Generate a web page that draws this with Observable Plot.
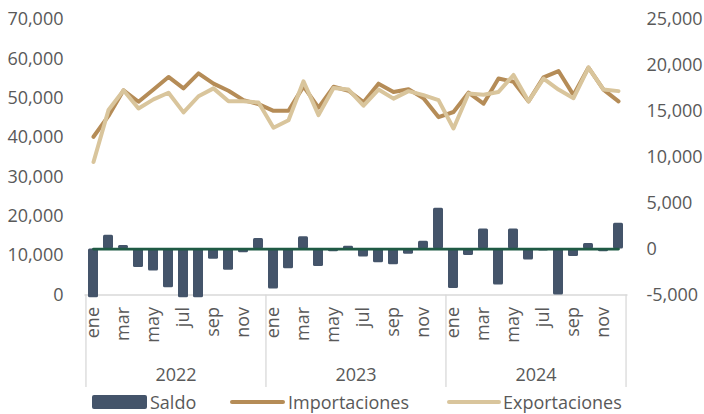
<!DOCTYPE html>
<html>
<head>
<meta charset="utf-8">
<script src="https://cdn.jsdelivr.net/npm/d3@7"></script>
<script src="https://cdn.jsdelivr.net/npm/@observablehq/plot@0.6"></script>
<style>
  html, body { margin: 0; padding: 0; background: #fff; }
  #chart { width: 704px; }
  .legend { position: relative; width: 704px; height: 26px; font-family: "Open Sans", sans-serif; font-size: 18px; color: #595959; }
  .legend span { position: absolute; white-space: nowrap; }
  .legend .txt { top: 3px; line-height: 22px; }
</style>
</head>
<body>
<div id="chart"></div>
<script>
// ---- Data ----
const years = ["2022", "2023", "2024"];
const monthNames = ["ene","feb","mar","abr","may","jun","jul","ago","sep","oct","nov","dic"];
const importaciones = [40200, 45500, 52000, 49100, 52200, 55400, 52500, 56300, 53700, 51900, 49500, 48500,
                       46800, 46800, 53000, 47600, 52900, 51900, 49000, 53700, 51600, 52300, 50000, 45200,
                       46500, 51400, 48600, 55000, 54200, 49200, 55300, 56900, 50800, 57800, 52200, 49200];
const exportaciones = [33800, 47000, 52000, 47400, 49700, 51400, 46400, 50500, 52500, 49200, 49200, 48900,
                       42500, 44400, 54300, 45700, 52600, 52200, 48100, 52200, 49900, 51800, 50800, 49500,
                       42300, 51200, 50900, 51600, 55900, 49200, 55000, 52200, 50000, 57800, 52200, 51800];
const saldo = [-5300, 1500, 400, -2000, -2400, -4200, -5300, -5300, -1100, -2300, -400, 1150,
               -4350, -2150, 1350, -1900, -300, 300, -870, -1500, -1700, -550, 850, 4450,
               -4300, -700, 2200, -3900, 2200, -1200, -200, -5000, -800, 600, -300, 2800];
const leftTicks = [0, 10000, 20000, 30000, 40000, 50000, 60000, 70000];
const rightTicks = [-5000, 0, 5000, 10000, 15000, 20000, 25000];

// ---- Build table ----
const keys = [];
years.forEach(y => monthNames.forEach(m => keys.push(y + "-" + m)));
const data = keys.map((k, i) => ({key: k, imp: importaciones[i], exp: exportaciones[i], saldo: saldo[i], zero: 0}));

// secondary axis mapping (right axis -5000..25000 onto left 0..70000)
const rMin = -5000, rMax = 25000, lMax = 70000;
const toLeft = v => (v - rMin) * lMax / (rMax - rMin);
const fromLeft = v => v * (rMax - rMin) / lMax + rMin;
const fmt = v => { const r = Math.round(v); return (r < 0 ? "-" : "") + d3.format(",")(Math.abs(r)); };

const W = 704, H = 388, mL = 84.5, mR = 76.5, mT = 19, mB = 93.5;
const step = (W - mL - mR) / keys.length;

const colSaldo = "#44546a", colImp = "#b58c57", colExp = "#d9c59c", colZero = "#1f5a44", colAxis = "#d9d9d9";

const janKeys = keys.filter(k => k.endsWith("-ene"));
const junKeys = keys.filter(k => k.endsWith("-jun"));
const monthTicks = keys.filter((k, i) => i % 2 === 0);

const chart = Plot.plot({
  width: W, height: H,
  marginLeft: mL, marginRight: mR, marginTop: mT, marginBottom: mB,
  style: {fontFamily: "Open Sans, sans-serif", fontSize: "18px", color: "#595959", background: "#fff"},
  x: {type: "band", domain: keys, paddingInner: 0.33, paddingOuter: 0.165, axis: null},
  y: {domain: [0, lMax], axis: null},
  marks: [
    Plot.ruleY([0], {stroke: colAxis, strokeWidth: 1.3}),
    Plot.barY(data, {x: "key", y1: d => toLeft(0), y2: d => toLeft(d.saldo), fill: colSaldo, rx: 1.5}),
    Plot.line(data, {x: "key", y: d => toLeft(d.zero), stroke: colZero, strokeWidth: 2.8}),
    Plot.line(data, {x: "key", y: "imp", stroke: colImp, strokeWidth: 4, strokeLinejoin: "round"}),
    Plot.line(data, {x: "key", y: "exp", stroke: colExp, strokeWidth: 4, strokeLinejoin: "round"}),
    Plot.axisY({anchor: "left", ticks: leftTicks, tickSize: 0, tickPadding: 21.5, tickFormat: d3.format(","), label: null}),
    Plot.axisY({anchor: "right", ticks: rightTicks.map(toLeft), tickSize: 0, tickPadding: 18.5, tickFormat: v => fmt(fromLeft(v)), label: null}),
    Plot.axisX({ticks: monthTicks, tickRotate: -90, tickSize: 0, tickPadding: 12, tickFormat: k => k.split("-")[1], label: null}),
    Plot.axisX({ticks: janKeys, tickSize: 92.5, tickFormat: () => "", stroke: colAxis, strokeWidth: 1.3, dx: -step / 2, label: null}),
    Plot.axisX({ticks: [keys[keys.length - 1]], tickSize: 92.5, tickFormat: () => "", stroke: colAxis, strokeWidth: 1.3, dx: step / 2, label: null}),
    Plot.axisX({ticks: junKeys, tickSize: 0, tickPadding: 73, tickFormat: k => k.split("-")[0], dx: step / 2, label: null})
  ]
});
document.getElementById("chart").appendChild(chart);

// ---- Legend ----
const legend = document.createElement("div");
legend.className = "legend";
legend.innerHTML = `
  <span style="left:92px;top:7px;width:55px;height:14px;background:${colSaldo};border-radius:2px"></span>
  <span class="txt" style="left:150px">Saldo</span>
  <span style="left:230px;top:12px;width:55px;height:4px;background:${colImp};border-radius:2px"></span>
  <span class="txt" style="left:288px">Importaciones</span>
  <span style="left:447px;top:12px;width:54px;height:4px;background:${colExp};border-radius:2px"></span>
  <span class="txt" style="left:503px">Exportaciones</span>`;
document.body.appendChild(legend);
</script>
</body>
</html>
